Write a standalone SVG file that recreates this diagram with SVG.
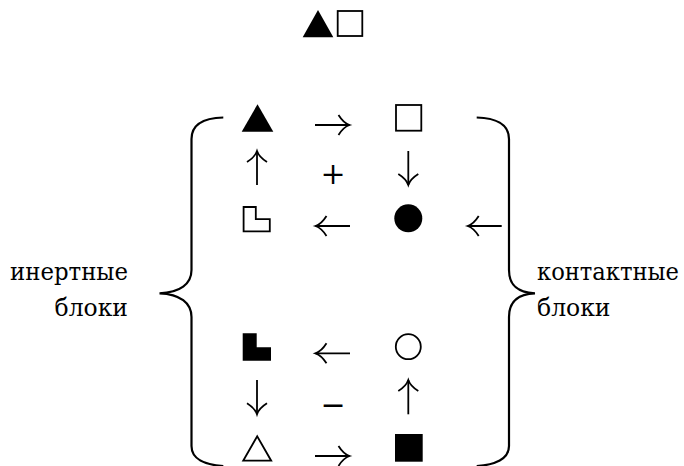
<svg xmlns="http://www.w3.org/2000/svg" width="684" height="466" viewBox="0 0 684 466">
<style>
.fill{fill:#000;stroke:none}
.open{fill:none;stroke:#000;stroke-width:1.8}
.brace{fill:none;stroke:#000;stroke-width:2.2}
.arr{fill:none;stroke:#000;stroke-width:1.8;marker-end:url(#head)}
.lbl{font-family:'DejaVu Serif Condensed','DejaVu Serif',serif;font-stretch:condensed;font-size:24px;fill:#000}
.sym{font-family:'DejaVu Serif',serif;font-size:30px;fill:#000;text-anchor:middle}
</style>
<defs>
<marker id="head" markerUnits="userSpaceOnUse" viewBox="-14 -12 16 24" refX="0" refY="0" markerWidth="16" markerHeight="24" orient="auto" overflow="visible">
<path d="M-11,-10 Q-6,-2 0,0 Q-6,2 -11,10" fill="none" stroke="#000" stroke-width="1.8"/>
</marker>
</defs>
<g id="title">
<polygon class="fill" points="302.7,37.3 318,10 333.3,37.3"/>
<rect class="open" x="337.7" y="11" width="24.6" height="25" stroke-width="2"/>
</g>
<g id="braces">
<path id="brace-left" class="brace" d="M223.3,117.5 C205,118 191.5,124 191.5,139 V270 C191.5,284 180,292.5 159.5,293.3 C180,294 191.5,303 191.5,317 V446 C191.5,459 205,465 223.3,466"/>
<path id="brace-right" class="brace" d="M476.7,117.5 C495,118 509,124 509,139 V270 C509,284 516,292.5 535,293.3 C516,294 509,303 509,317 V446 C509,459 495,465 476.7,466"/>
</g>
<g id="n-tri-fill"><polygon class="fill" points="241.7,131.7 257.5,104.3 273.3,131.7"/></g>
<g id="n-sq-open"><rect class="open" x="396" y="105" width="25.3" height="25.7"/></g>
<g id="n-l-open"><path class="open" d="M243.6,207 H255.8 V219.2 H269.8 V231.4 H243.6 Z"/></g>
<g id="n-circ-fill"><circle class="fill" cx="408.3" cy="218.3" r="14"/></g>
<g id="n-l-fill"><path class="fill" d="M242.7,333.3 H256.7 V347.3 H271 V360.7 H242.7 Z"/></g>
<g id="n-circ-open"><circle class="open" cx="408.3" cy="346.7" r="12.5"/></g>
<g id="n-tri-open"><polygon class="open" points="243.2,460.7 257.2,436.3 271.2,460.7" stroke-width="2"/></g>
<g id="n-sq-fill"><rect class="fill" x="395" y="434" width="27.7" height="27.7"/></g>
<g id="signs">
<text class="sym" x="333" y="184">+</text>
<text class="sym" x="333" y="414.5">−</text>
</g>
<g id="connectors">
<path class="arr" d="M315,125 H349.5"/>
<path class="arr" d="M257,185 V151"/>
<path class="arr" d="M408.3,151 V185"/>
<path class="arr" d="M350,226 H315.5"/>
<path class="arr" d="M501.7,226 H467.7"/>
<path class="arr" d="M350,353.3 H315.5"/>
<path class="arr" d="M257,380 V414.3"/>
<path class="arr" d="M408.3,414.3 V380"/>
<path class="arr" d="M315,456 H349.5"/>
</g>
<g id="labels">
<text class="lbl" x="10" y="280" textLength="118" lengthAdjust="spacingAndGlyphs">инертные</text>
<text class="lbl" x="54.5" y="316" textLength="73.5" lengthAdjust="spacingAndGlyphs">блоки</text>
<text class="lbl" x="537" y="280" textLength="142" lengthAdjust="spacingAndGlyphs">контактные</text>
<text class="lbl" x="537" y="316" textLength="73.5" lengthAdjust="spacingAndGlyphs">блоки</text>
</g>
</svg>
